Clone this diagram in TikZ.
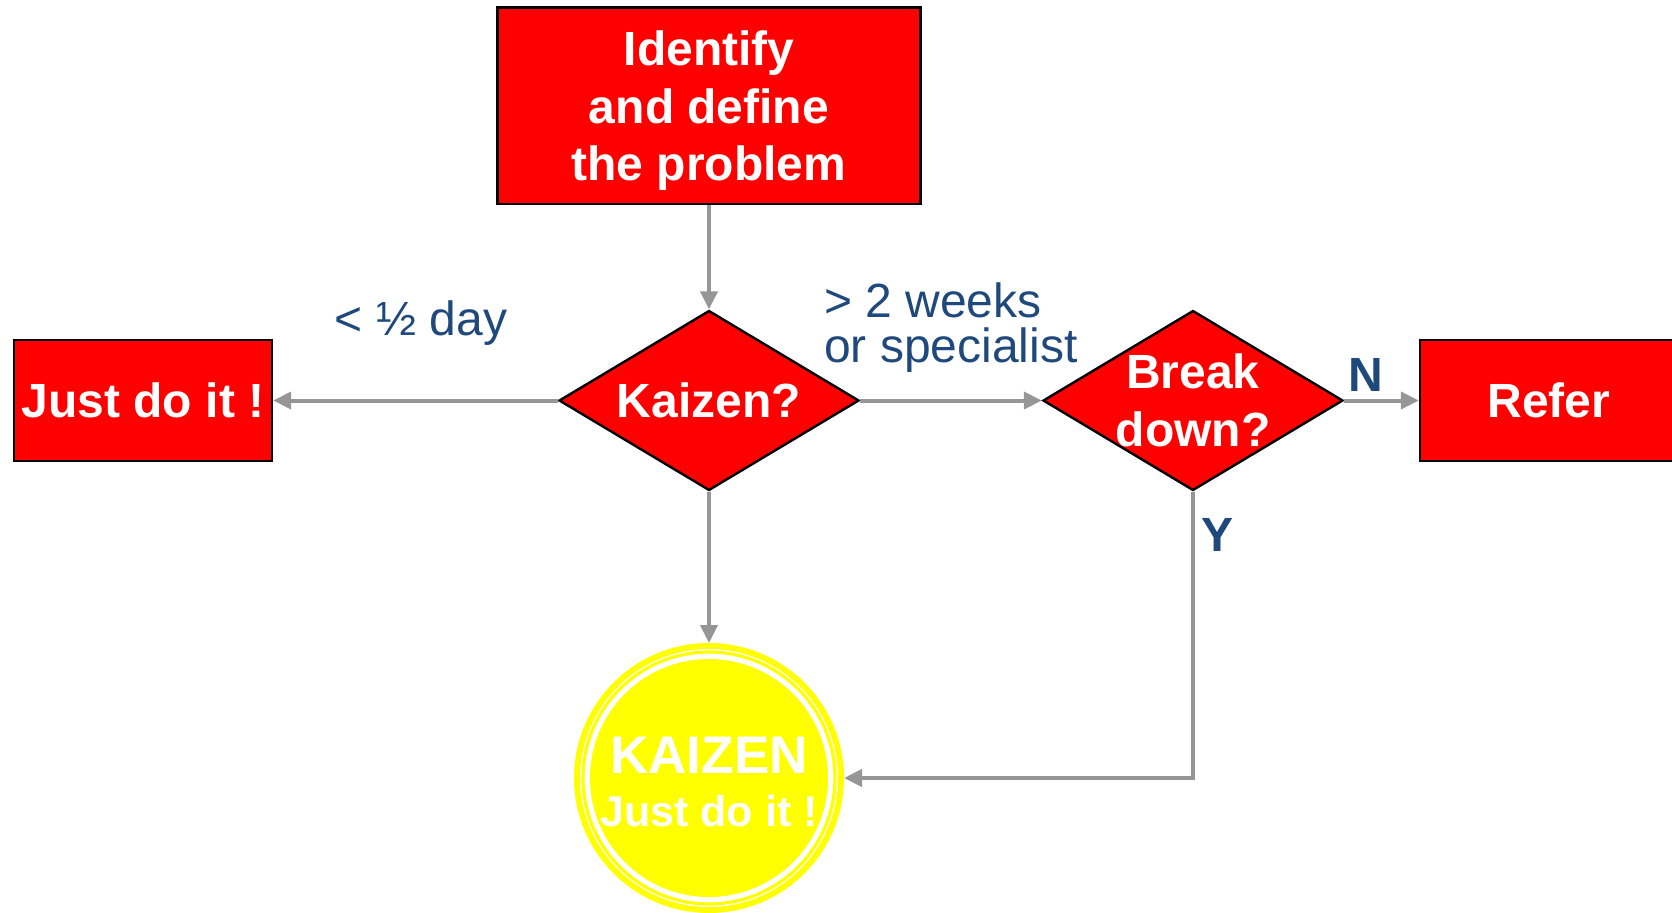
\documentclass[tikz,border=0pt]{standalone}
\usepackage{fontspec}
\setmainfont{Liberation Sans}
\usepackage{tikz}
\usetikzlibrary{shapes.geometric, arrows.meta}
\definecolor{flowred}{RGB}{255,0,0}
\definecolor{flowgray}{RGB}{150,150,150}
\definecolor{labelblue}{RGB}{31,73,125}
\definecolor{goalyellow}{RGB}{255,255,0}

\begin{document}
\begin{tikzpicture}[x=0.5pt, y=-0.5pt,
  box/.style={draw=black, line width=1.2pt, fill=flowred, text=white,
    font=\fontsize{24}{28.8}\selectfont\bfseries, align=center, inner sep=0pt},
  decision/.style={diamond, aspect=1.667, draw=black, line width=1.2pt, fill=flowred,
    minimum width=150pt, minimum height=90pt, inner sep=0pt},
  dtext/.style={text=white, font=\fontsize{24}{28.8}\selectfont\bfseries, align=center},
  flow/.style={draw=flowgray, line width=2pt, -{Triangle[length=9pt, width=8.5pt]}},
  lbl/.style={text=labelblue, font=\fontsize{24}{22.5}\selectfont}]
  \useasboundingbox (0,0) rectangle (1672,912);

  % boxes and decisions
  \node[box, minimum width=211.5pt, minimum height=98.25pt, text depth=0pt] (ident) at (709,105.75) {Identify\\and define\\the problem};
  \node[decision, label={[dtext]center:Kaizen?}] (kzq) at (709,400.5) {};
  \node[box, minimum width=129pt, minimum height=60.5pt] (jdi) at (143,400.5) {Just do it !};
  \node[decision, label={[dtext]center:{Break\\down?}}] (brk) at (1193,400.5) {};
  \node[box, minimum width=129pt, minimum height=60.5pt] (refer) at (1549,400.5) {Refer};

  % goal
  \node[circle, draw=goalyellow, line width=3pt, fill=white, minimum size=132pt, inner sep=0pt,
    path picture={
      \draw[goalyellow, line width=1.6pt] (path picture bounding box.center) circle (63pt);
      \fill[goalyellow] (path picture bounding box.center) circle (59.5pt);
    },
    label={[text=white, align=center, yshift=-2pt, font=\fontsize{21.5}{26.5}\selectfont\bfseries]center:{{\fontsize{26.5}{26.5}\selectfont KAIZEN}\\Just do it !}}] (kz) at (709,778) {};

  % connectors
  \draw[flow] (ident) -- (kzq);
  \draw[flow] (kzq) -- (jdi);
  \draw[flow] (kzq) -- (brk);
  \draw[flow] (kzq) -- (kz);
  \draw[flow] (brk) -- (refer);
  \draw[flow] (brk.south) |- (kz.east);

  % labels
  \node[lbl] (halfday) at (421,323) {< ½ day};
  \node[lbl, anchor=west, align=left] (weeks) at (817,328) {> 2 weeks\\or specialist};
  \node[lbl, font=\fontsize{24}{24}\selectfont\bfseries] (no) at (1366,375) {N};
  \node[lbl, font=\fontsize{24}{24}\selectfont\bfseries] (yes) at (1217,535) {Y};
\end{tikzpicture}
\end{document}
